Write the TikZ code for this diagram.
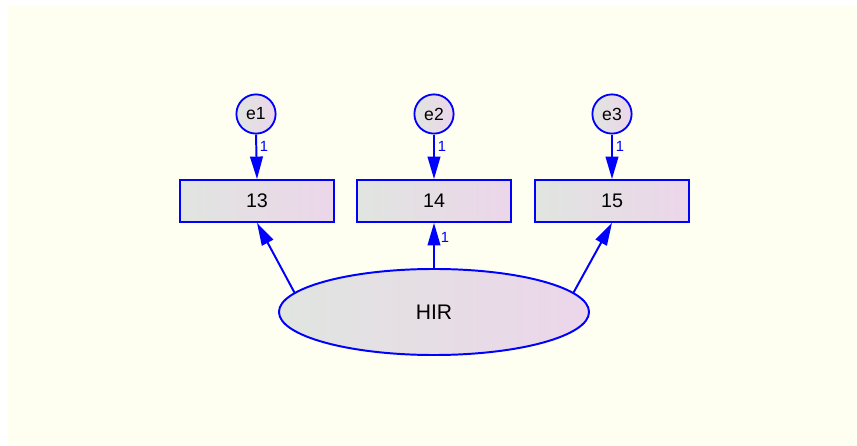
\documentclass[tikz,border=0pt]{standalone}
\usepackage{fontspec}
\setmainfont{Liberation Sans}
\usepackage{tikz}
\usetikzlibrary{positioning}
\usetikzlibrary{shapes.geometric, arrows.meta}
\definecolor{ivory}{RGB}{254,255,240}
\definecolor{shadeL}{RGB}{224,229,224}
\definecolor{shadeR}{RGB}{236,214,234}
\tikzstyle{obs} = [rectangle, minimum width=3.85cm, minimum height=1.05cm, draw=blue, line width=1.3pt, left color=shadeL, right color=shadeR, font=\fontsize{14}{16}\selectfont]
\tikzstyle{err} = [circle, minimum size=0.98cm, inner sep=0pt, draw=blue, line width=1.3pt, left color=shadeL, right color=shadeR, font=\fontsize{12.5}{14}\selectfont]
\tikzstyle{lat} = [ellipse, minimum width=7.75cm, minimum height=2.15cm, draw=blue, line width=1.4pt, left color=shadeL, right color=shadeR, font=\fontsize{15}{17}\selectfont]
\tikzstyle{loading} = [blue, line width=1.4pt, -{Triangle[length=16pt,width=9pt]}]
\tikzstyle{weight} = [text=blue, inner sep=0pt, font=\fontsize{10.5}{12}\selectfont]

\begin{document}
\begin{tikzpicture}[x=0.025cm, y=-0.025cm]
% page
\fill [white] (0,0) rectangle (857,446);
\fill [ivory] (8,6) rectangle (857,446);
% indicators
\draw (257,201) node (v13) [obs] {13};
\draw (434,201) node (v14) [obs] {14};
\draw (612,201) node (v15) [obs] {15};
% error terms
\draw (256,114) node (e1) [err] {e1};
\draw (434,114) node (e2) [err] {e2};
\draw (612,114) node (e3) [err] {e3};
% latent factor
\draw (434,312) node (hir) [lat] {HIR};
\draw [loading] (e1.south) -- (v13.north);
\draw [loading] (e2.south) -- (v14.north);
\draw [loading] (e3.south) -- (v15.north);
\draw [loading] (hir.172) -- (v13.south);
\draw [loading] (hir.north) -- (v14.south);
\draw [loading] (hir.8) -- (v15.south);
% fixed weights
\node (w1) [weight] at (264,146) {1};
\node (w2) [weight] at (442,146) {1};
\node (w3) [weight] at (620,146) {1};
\node (w4) [weight] at (445,237) {1};
\end{tikzpicture}
\end{document}
